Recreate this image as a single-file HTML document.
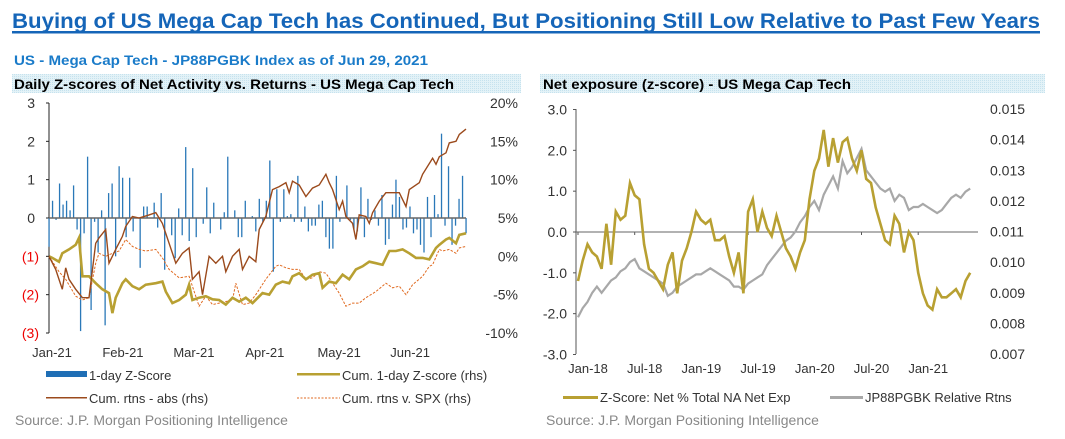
<!DOCTYPE html>
<html><head><meta charset="utf-8"><style>
body{margin:0;background:#fff;}
svg{display:block;font-family:"Liberation Sans Narrow","Liberation Sans",sans-serif;}
</style></head><body>
<svg id="s" width="1065" height="439" viewBox="0 0 1065 439" xmlns="http://www.w3.org/2000/svg">
<defs><pattern id="dots" width="2" height="2" patternUnits="userSpaceOnUse"><rect width="2" height="2" fill="#e3f2f7"/><rect width="1" height="1" fill="#c6e2ee"/></pattern></defs>
<text x="12" y="28" font-size="21" font-weight="bold" fill="#1565b8" textLength="1028" lengthAdjust="spacingAndGlyphs">Buying of US Mega Cap Tech has Continued, But Positioning Still Low Relative to Past Few Years</text>
<rect x="12" y="31" width="1028" height="2.5" fill="#1565b8"/>
<text x="14" y="65" font-size="13.5" font-weight="bold" fill="#1a7bc9" font-family="Liberation Sans, sans-serif" textLength="414" lengthAdjust="spacingAndGlyphs">US - Mega Cap Tech - JP88PGBK Index as of Jun 29, 2021</text>
<rect x="12" y="74" width="509" height="19" fill="url(#dots)"/>
<text x="14" y="89" font-size="14" font-weight="bold" fill="#000" font-family="Liberation Sans, sans-serif" textLength="440" lengthAdjust="spacingAndGlyphs">Daily Z-scores of Net Activity vs. Returns - US Mega Cap Tech</text>
<rect x="540" y="74" width="505" height="19" fill="url(#dots)"/>
<text x="543" y="89" font-size="14" font-weight="bold" fill="#000" font-family="Liberation Sans, sans-serif" textLength="308" lengthAdjust="spacingAndGlyphs">Net exposure (z-score) - US Mega Cap Tech</text>
<g id="L"></g><g id="R"></g>
<g font-size="13" fill="#333">
<rect x="46" y="371" width="41" height="6" fill="#1f6eb5"/>
<text x="89" y="380">1-day Z-Score</text>
<rect x="297" y="373" width="43" height="2.5" fill="#b8a032"/>
<text x="342" y="380">Cum. 1-day Z-score (rhs)</text>
<rect x="46" y="397" width="41" height="1.5" fill="#9b4a1c"/>
<text x="89" y="403">Cum. rtns - abs (rhs)</text>
<line x1="297" y1="398" x2="340" y2="398" stroke="#e06a20" stroke-dasharray="2,1.5"/>
<text x="342" y="403">Cum. rtns v. SPX (rhs)</text>
<rect x="563" y="396" width="35" height="3" fill="#b8a032"/>
<text x="600" y="402">Z-Score: Net % Total NA Net Exp</text>
<rect x="830" y="396" width="33" height="3" fill="#a8a8a8"/>
<text x="865" y="402">JP88PGBK Relative Rtns</text>
<text x="15" y="425" fill="#888" font-size="14">Source: J.P. Morgan Positioning Intelligence</text>
<text x="546" y="425" fill="#888" font-size="14">Source: J.P. Morgan Positioning Intelligence</text>
</g>
</svg>
<script>
// ---- Left chart data ----
const barValues=[-0.75,0.45,-0.05,0.9,0.35,0.45,0.2,0.85,-0.3,-2.95,-0.4,1.6,-2.4,-0.1,-0.9,0.2,-2.8,0.65,0.9,-1.0,1.35,1.05,-0.5,1.05,-0.35,0.0,-1.3,0.3,0.3,0.0,0.4,-0.25,0.65,-1.35,0.0,-0.45,-1.05,0.25,-0.45,1.85,-0.6,1.3,-0.5,0.0,-0.15,0.8,-0.4,0.4,0.0,-0.3,0.15,1.6,0.0,0.2,-0.5,-0.5,0.45,0.0,0.05,-0.35,0.5,-0.1,0.45,1.5,-1.4,0.75,-0.1,0.75,0.05,0.1,-0.1,1.1,-0.1,0.3,-0.35,-0.2,-0.2,0.35,0.45,-0.5,-0.8,-0.8,1.1,-0.1,0.0,0.85,-0.05,-0.3,-0.35,0.8,-0.5,0.5,-0.05,0.2,-0.2,0.6,-0.7,-0.55,0.35,1.0,0.55,-0.3,-0.25,0.3,-0.4,-0.3,-0.7,-0.9,0.55,-0.5,0.6,0.1,2.2,-0.2,1.35,-0.7,-0.2,0.5,1.1,-0.4];
const absDays=[0,2,4,5,6,8,10,12,14,15,17,18,20,22,23,25,27,30,32,34,36,38,40,42,43,45,46,48,50,52,53,55,57,58,60,62,63,65,67,69,71,72,73,75,77,79,81,83,84,85,87,88,89,91,92,93,95,96,97,99,101,103,105,107,108,111,112,115,116,117,119,120,122,123,125];
const absRtns=[0,-1.7,-4.3,-1.5,-3,-4.3,-5.4,-5.4,1.7,2.4,3.5,-0.9,0.9,2.6,3.9,5.2,5,5.4,5.7,4.3,1.7,-0.9,0.4,1.1,-3,-2,-5,0,-0.9,0,-2,0,0.9,-1.7,0,-0.7,3.5,5.2,8.7,9.1,9.6,8.3,9.8,9.3,7.8,8.9,9.3,10.7,9.6,8.7,6.1,7.2,5.2,4.3,2.2,5.4,5.2,4.3,5.7,7.2,8.3,8.3,8.3,6.5,8.7,9.6,10.7,12.8,12,13,13.5,14.8,15,15.9,16.6];
const cumZDays=[0,1,3,4,6,8,9,10,12,14,16,18,19,20,22,23,25,27,29,32,34,35,37,39,41,42,43,45,47,49,51,53,55,57,59,61,64,66,68,70,72,73,75,77,79,81,82,84,86,88,90,92,94,96,98,100,102,104,106,108,110,112,114,116,117,119,120,122,123,125];
const cumZ=[0,-0.2,-0.7,0.4,0.9,1.5,2.4,-2.6,-2.6,-3.5,-4.3,-4.8,-7.4,-5.4,-3.5,-3,-3.9,-4.3,-3.7,-3.5,-3.3,-4.6,-6.1,-5.7,-5,-3.7,-5.7,-5.4,-5.2,-5.6,-5.7,-6.3,-5.4,-5.9,-5.4,-6.1,-4.8,-5,-3.7,-3.3,-3.5,-2.6,-2.2,-3,-2.4,-2.2,-4.1,-3.3,-3.5,-2.4,-3,-1.7,-1.3,-0.7,-0.9,-1.1,0.7,0.7,0.9,0.4,-0.2,-0.2,-0.4,1.1,1.5,2.2,2.4,1.7,2.8,3];
const spxDays=[0,3,5,8,10,12,14,15,17,19,21,23,25,27,29,32,34,36,39,42,43,45,47,49,51,53,55,56,58,60,62,65,68,69,71,73,75,77,79,81,83,85,87,89,91,93,95,98,101,103,105,107,109,112,114,115,117,118,120,122,123,125];
const spxRtns=[0,-2,-3,-5.2,-5.7,-5.4,-0.9,0.4,0,0.4,0.7,2.2,1.3,0.9,0.7,0.9,-0.2,-1.7,-2.8,-2.6,-3.9,-6.5,-5.2,-6.3,-6.1,-5.9,-5.7,-3.5,-6.3,-6.1,-5,-3,-1.3,-1.1,-1.5,-1.7,-1.7,-3,-2.8,-2,-2.2,-3.5,-4.8,-6.5,-6.1,-6.1,-5.4,-4.6,-3.5,-4.1,-3.9,-5,-3.7,-2.6,-1.3,-1.1,0.9,0.7,0.9,0.4,1.1,1.3];
const leftMonthLabels=["Jan-21","Feb-21","Mar-21","Apr-21","May-21","Jun-21"];
const leftMonthDays=[0,21,42,63,85,106];
const leftYTicks=[3,2,1,0,-1,-2,-3];
const leftRTicks=[20,15,10,5,0,-5,-10];
// ---- Right chart data (half-month steps from Jan-18) ----
const netExp=[-1.2,-0.7,-0.3,-0.5,-0.6,-0.9,0.2,-0.8,0.5,0.3,0.4,1.2,0.9,0.8,-0.3,-0.9,-1.0,-1.2,-1.4,-0.8,-0.5,-1.5,-0.7,-0.4,0.0,0.5,0.3,0.2,0.3,-0.2,-0.2,-0.1,-0.6,-1.0,-0.5,-1.5,0.5,0.8,0.0,0.5,0.1,-0.1,0.4,0.0,-0.4,-0.6,-0.9,-0.5,-0.2,0.8,1.5,1.8,2.5,1.6,2.3,1.7,2.2,2.3,1.8,1.5,2.0,1.3,1.2,0.6,0.2,-0.2,-0.3,0.4,0.2,-0.5,0.0,-0.2,-1.0,-1.5,-1.8,-1.9,-1.4,-1.6,-1.6,-1.5,-1.4,-1.6,-1.2,-1.0];
const relRtns=[0.0082,0.0085,0.0087,0.0090,0.0092,0.0090,0.0092,0.0094,0.0095,0.0097,0.0098,0.0100,0.0101,0.0098,0.0097,0.0096,0.0095,0.0094,0.0093,0.0089,0.0090,0.0092,0.0093,0.0094,0.0095,0.0096,0.0096,0.0097,0.0098,0.0097,0.0096,0.0095,0.0094,0.0092,0.0092,0.0091,0.0093,0.0094,0.0095,0.0096,0.0099,0.0101,0.0103,0.0105,0.0107,0.0108,0.0110,0.0113,0.0115,0.0118,0.0120,0.0117,0.0122,0.0125,0.0128,0.0124,0.0133,0.0129,0.0131,0.0134,0.0137,0.0130,0.0128,0.0126,0.0124,0.0123,0.0124,0.0120,0.0122,0.0121,0.0117,0.0118,0.0118,0.0119,0.0118,0.0117,0.0116,0.0117,0.0119,0.0121,0.0122,0.0121,0.0123,0.0124];
const rightMonthLabels=["Jan-18","Jul-18","Jan-19","Jul-19","Jan-20","Jul-20","Jan-21"];
const rightMonthIdx=[0,6,12,18,24,30,36];
const rightYTicks=[3,2,1,0,-1,-2,-3];
const rightRTicks=[0.015,0.014,0.013,0.012,0.011,0.010,0.009,0.008,0.007];

const NS="http://www.w3.org/2000/svg";
function mk(p,t,a){const e=document.createElementNS(NS,t);for(const k in a)e.setAttribute(k,a[k]);p.appendChild(e);return e;}
const L=document.getElementById('L'),R=document.getElementById('R');
// left scales
const lx=d=>49+d*(466-49)/125, ly=v=>218-v*(115/3)*1, lr=p=>218-(p-5)*(230/30);
function lyz(v){return 218-v*(230/6);}
let e;
e=mk(L,'line',{x1:49,y1:103,x2:49,y2:333,stroke:'#222','stroke-width':1});


leftYTicks.forEach(v=>{
 e=mk(L,'line',{x1:46,y1:lyz(v),x2:49,y2:lyz(v),stroke:'#222'});
 
 
 e=mk(L,'text',{x:v<0?39:35,y:lyz(v)+5,'text-anchor':'end','font-size':14,fill:v<0?'#e00':'#333'});
 e.textContent=v<0?'('+(-v)+')':String(v);
 
 
});
leftRTicks.forEach(p=>{
 e=mk(L,'text',{x:518,y:lr(p)+5,'text-anchor':'end','font-size':14,fill:'#333'});
 e.textContent=p+'%';
 
 
});
leftMonthLabels.forEach((m,i)=>{
 const xx=[51,124,190,263,335,409][i];
 e=mk(L,'text',{x:lx(leftMonthDays[i])+ (i==0?2:0)+ (xx-lx(leftMonthDays[i]))*0,y:357,'text-anchor':'middle','font-size':13,fill:'#333'});
 e.setAttribute('x',lx(leftMonthDays[i])+3+i*0.9);
 e.textContent=m;
 
 
});
barValues.forEach((v,i)=>{
 const x=lx(i*125/(barValues.length-1));
 const y0=lyz(0),y1=lyz(v);
 e=mk(L,'rect',{x:x-0.6,y:Math.min(y0,y1),width:1.3,height:Math.abs(y1-y0),fill:'#2a78b8'});
 
 
});
e=mk(L,'line',{x1:49,y1:218,x2:466,y2:218,stroke:'#666','stroke-width':1.6});


function poly(g,xs,ys,fx,fy,attrs,name){
 const pts=xs.map((d,i)=>fx(d).toFixed(1)+','+fy(ys[i]).toFixed(1)).join(' ');
 const p=mk(g,'polyline',Object.assign({points:pts,fill:'none'},attrs));
 
 
}
poly(L,spxDays,spxRtns,lx,lr,{stroke:'#e06a20','stroke-width':1,'stroke-dasharray':'2.5,1.5'},'line-cum-rtns-spx');
poly(L,cumZDays,cumZ,lx,lr,{stroke:'#b8a032','stroke-width':2.6},'line-cum-zscore');
poly(L,absDays,absRtns,lx,lr,{stroke:'#9b4a1c','stroke-width':1.4},'line-cum-rtns-abs');

// right chart
const rx=m=>578+m*9.45, ry=v=>232-v*(245/6), rr=v=>109+(0.015-v)/0.008*245;
e=mk(R,'line',{x1:576,y1:109,x2:576,y2:354,stroke:'#555'});


rightYTicks.forEach(v=>{
 e=mk(R,'line',{x1:573,y1:ry(v),x2:576,y2:ry(v),stroke:'#555'});
 
 
 e=mk(R,'text',{x:567,y:ry(v)+5,'text-anchor':'end','font-size':14,fill:'#333'});
 e.textContent=v.toFixed(1);
 
 
});
rightRTicks.forEach(v=>{
 e=mk(R,'text',{x:990,y:rr(v)+5,'font-size':14,fill:'#333'});
 e.textContent=v.toFixed(3);
 
 
});
rightMonthLabels.forEach((m,i)=>{
 e=mk(R,'text',{x:rx(rightMonthIdx[i])+10,y:373,'text-anchor':'middle','font-size':13,fill:'#333'});
 e.textContent=m;
 
 
 e=mk(R,'line',{x1:rx(rightMonthIdx[i]),y1:232,x2:rx(rightMonthIdx[i]),y2:235,stroke:'#555'});
 
 
});
e=mk(R,'line',{x1:576,y1:232,x2:978,y2:232,stroke:'#666','stroke-width':1});


const mIdx=netExp.map((_,i)=>i/2);
poly(R,mIdx,relRtns,rx,rr,{stroke:'#a8a8a8','stroke-width':2.2},'line-relative-rtns');
poly(R,mIdx,netExp,rx,ry,{stroke:'#b8a032','stroke-width':2.6},'line-net-exposure');
</script>
</body></html>
